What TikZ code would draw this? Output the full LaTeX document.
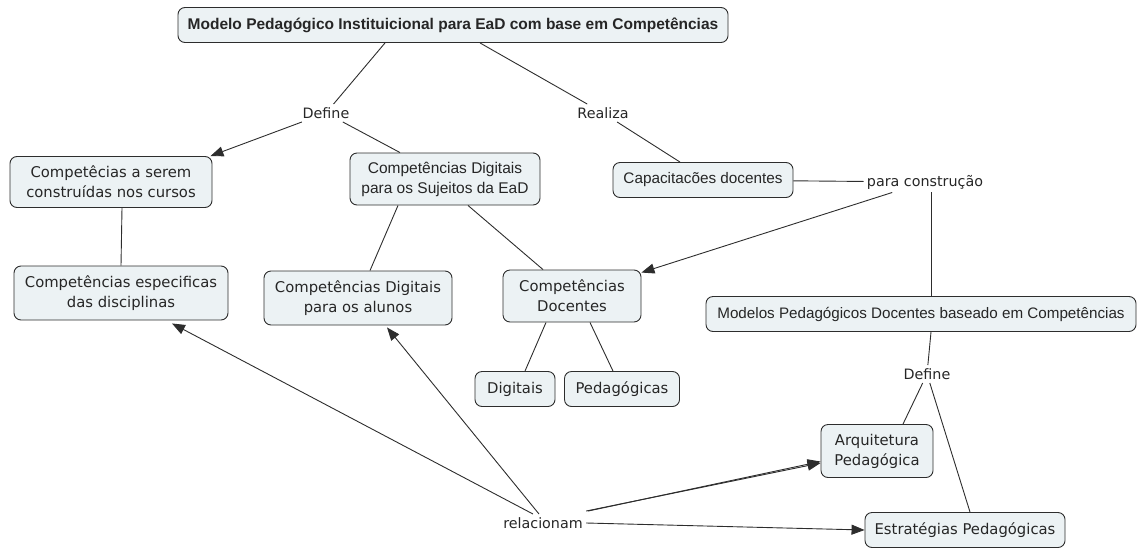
\documentclass[tikz,border=0pt]{standalone}
\usepackage{fontspec}
\setmainfont{DejaVu Sans}
\newfontfamily\arialfont{Liberation Sans}
\usetikzlibrary{arrows.meta}
\definecolor{caixa}{RGB}{236,242,244}
\definecolor{borda}{RGB}{45,45,45}
\tikzset{
    conceito/.style={draw=borda, fill=caixa, rounded corners=7pt, align=center,
        line width=0.9pt, inner sep=2pt, text=black!85, font=\fontsize{14.8}{20}\selectfont},
    ligacao/.style={font=\fontsize{14.3}{16}\selectfont, inner sep=3pt, text=black!85},
    seta/.style={-{Triangle[length=13pt,width=10pt]}},
}
\begin{document}
\begin{tikzpicture}[x=1pt, y=-1pt, line width=0.9pt, draw=borda]
\useasboundingbox (0,0) rectangle (1147,549);
% conceitos
\node[conceito, minimum width=550, minimum height=35,
    font=\arialfont\bfseries\fontsize{15.5}{17}\selectfont] (titulo) at (453,25)
    {Modelo Pedagógico Instituicional para EaD com base em Competências};
\node[conceito, minimum width=202, minimum height=51] (cursos) at (111,182)
    {Competêcias a serem\\construídas nos cursos};
\node[conceito, minimum width=190, minimum height=52,
    font=\arialfont\fontsize{15.5}{20}\selectfont] (sujeitos) at (445,179)
    {Competências Digitais\\para os Sujeitos da EaD};
\node[conceito, minimum width=180, minimum height=35,
    font=\arialfont\fontsize{15.3}{17}\selectfont] (capac) at (703,180)
    {Capacitacões docentes};
\node[conceito, minimum width=214, minimum height=54] (especif) at (121,293)
    {Competências especificas\\das disciplinas};
\node[conceito, minimum width=188, minimum height=54] (alunos) at (358,298)
    {Competências Digitais\\para os alunos};
\node[conceito, minimum width=138, minimum height=52] (docentes) at (572,296)
    {Competências\\Docentes};
\node[conceito, minimum width=80, minimum height=35] (digitais) at (515,389)
    {Digitais};
\node[conceito, minimum width=115, minimum height=35] (pedag) at (622,389)
    {Pedagógicas};
\node[conceito, minimum width=430, minimum height=35,
    font=\arialfont\fontsize{15.2}{17}\selectfont] (modelos) at (921,314)
    {Modelos Pedagógicos Docentes baseado em Competências};
\node[conceito, minimum width=112, minimum height=53] (arquit) at (877,451)
    {Arquitetura\\Pedagógica};
\node[conceito, minimum width=200, minimum height=35] (estrat) at (965,530)
    {Estratégias Pedagógicas};
% frases de ligacao
\node[ligacao] (define) at (326,113) {Define};
\node[ligacao] (realiza) at (603,113) {Realiza};
\node[ligacao] (paracons) at (925,182) {para construção};
\node[ligacao] (define2) at (927,374) {Define};
\node[ligacao] (relac) at (543,523) {relacionam};
% ligacoes
\draw ([xshift=-68pt]titulo.south) -- (define);
\draw ([xshift=27pt]titulo.south) -- (realiza);
\draw[seta] (define) -- ([xshift=-2pt]cursos.north east);
\draw (define) -- ([xshift=-45pt]sujeitos.north);
\draw (realiza) -- ([xshift=-23pt]capac.north);
\draw (capac) -- (paracons);
\draw[seta] (paracons) -- ([yshift=-3pt]docentes.north east);
\draw ([xshift=6pt]paracons.south) -- ([xshift=10pt]modelos.north);
\draw ([xshift=11pt]cursos.south) -- (especif.north);
\draw ([xshift=-47pt]sujeitos.south) -- ([xshift=12pt]alunos.north);
\draw ([xshift=23pt]sujeitos.south) -- ([xshift=-29pt]docentes.north);
\draw ([xshift=-26pt]docentes.south) -- ([xshift=10pt]digitais.north);
\draw ([xshift=18pt]docentes.south) -- ([xshift=-9pt]pedag.north);
\draw ([xshift=10pt]modelos.south) -- (define2);
\draw (define2) -- ([xshift=26pt]arquit.north);
\draw (define2) -- ([xshift=5pt]estrat.north);
\draw[seta] ([xshift=-10pt]relac.north) -- ([xshift=51pt,yshift=-3pt]especif.south);
\draw[seta] ([xshift=-4pt]relac.north) -- ([xshift=29pt,yshift=-2pt]alunos.south);
\draw[seta] ([yshift=3pt]relac.north east) -- ([yshift=-12pt]arquit.west);
\draw[seta] ([xshift=2pt,yshift=3pt]relac.north east) -- ([yshift=-10.5pt]arquit.west);
\draw[seta] (relac.east) -- (estrat.west);
\end{tikzpicture}
\end{document}
